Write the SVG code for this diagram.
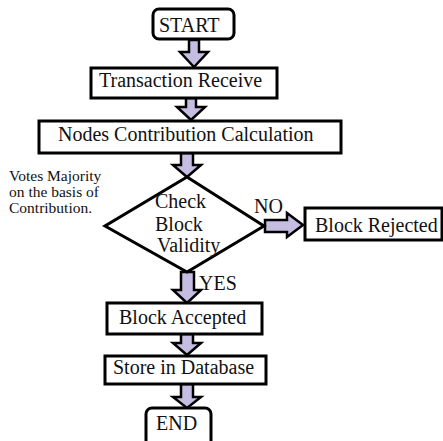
<svg xmlns="http://www.w3.org/2000/svg" width="443" height="441" viewBox="0 0 443 441">
<style>
.box{fill:#fff;stroke:#000;stroke-width:3}
.arr{fill:#c6bee2;stroke:#000;stroke-width:2.5;stroke-linejoin:miter}
text{font-family:"Liberation Serif","Times New Roman",serif;font-size:20px;fill:#111}
.small{font-size:15.5px}
</style>
<rect width="443" height="441" fill="#fff"/>
<g id="connectors">
<polygon class="arr" points="189,40 199,40 199,52 208,52 194,67 180,52 189,52"/>
<polygon class="arr" points="186,98 196,98 196,107 205,107 191,120 177,107 186,107"/>
<polygon class="arr" points="181,153 193,153 193,165 201,165 187,177 173,165 181,165"/>
<polygon class="arr" points="265,220 287,220 287,213 303,225 287,237 287,232 265,232"/>
<polygon class="arr" points="181,272 194,272 194,290 201,290 187,303 173,290 181,290"/>
<polygon class="arr" points="181,334 193,334 193,343 201,343 187,355 173,343 181,343"/>
<polygon class="arr" points="181,384 193,384 193,397 201,397 187,408 173,397 181,397"/>
<text x="254" y="213">NO</text>
<text x="199" y="290">YES</text>
</g>
<g id="start">
<rect class="box" x="153" y="9" width="81" height="30" rx="6"/>
<text x="159" y="32">START</text>
</g>
<g id="transaction">
<rect class="box" x="91" y="68" width="186" height="30"/>
<text x="99" y="87">Transaction Receive</text>
</g>
<g id="contribution">
<rect class="box" x="39" y="121" width="302" height="32"/>
<text x="58" y="141">Nodes Contribution Calculation</text>
</g>
<g id="note">
<text class="small" x="9" y="181">Votes Majority</text>
<text class="small" x="9" y="197">on the basis of</text>
<text class="small" x="9" y="213">Contribution.</text>
</g>
<g id="check">
<polygon points="187,177 264,226 187,272 105,226" fill="#fff" stroke="#000" stroke-width="3"/>
<text x="155" y="208">Check</text>
<text x="155" y="231">Block</text>
<text x="157" y="252">Validity</text>
</g>
<g id="rejected">
<rect class="box" x="305" y="208" width="137" height="32"/>
<text x="315" y="232">Block Rejected</text>
</g>
<g id="accepted">
<rect class="box" x="107" y="303" width="155" height="31"/>
<text x="119" y="324">Block Accepted</text>
</g>
<g id="store">
<rect class="box" x="105" y="356" width="161" height="28"/>
<text x="113" y="374">Store in Database</text>
</g>
<g id="end">
<rect class="box" x="146" y="408" width="65" height="40" rx="6"/>
<text x="156" y="430">END</text>
</g>
</svg>
